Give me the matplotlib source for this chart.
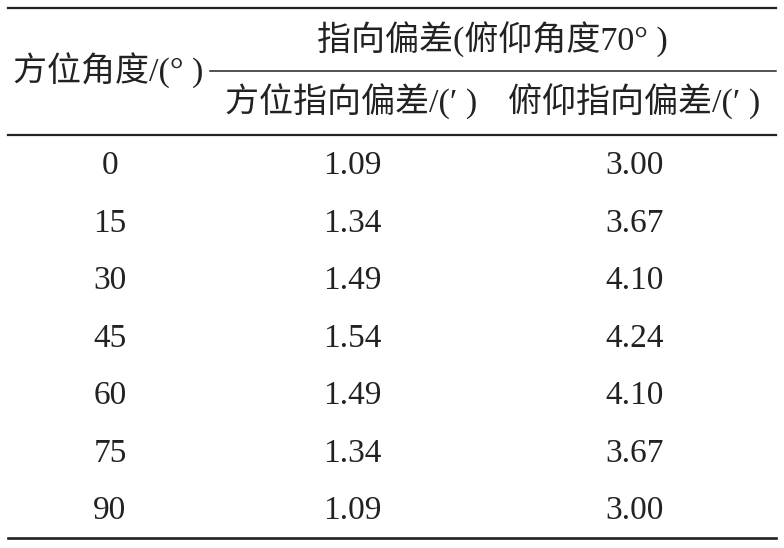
import matplotlib
matplotlib.use("Agg")
import matplotlib.pyplot as plt

# table data
azimuth = ["0", "15", "30", "45", "60", "75", "90"]
az_error = ["1.09", "1.34", "1.49", "1.54", "1.49", "1.34", "1.09"]
el_error = ["3.00", "3.67", "4.10", "4.24", "4.10", "3.67", "3.00"]

group_title = "指向偏差(俯仰角度70° )"
col_titles = ["方位角度/(° )", "方位指向偏差/(′ )", "俯仰指向偏差/(′ )"]

fam = ["Liberation Serif", "Noto Sans CJK SC"]
W, H = 784, 548

fig = plt.figure(figsize=(W / 100, H / 100), dpi=100)
ax = fig.add_axes([0, 0, 1, 1])
ax.set_xlim(0, W)
ax.set_ylim(H, 0)
ax.axis("off")

# rules
ax.plot([8, 776], [8, 8], color="#222222", lw=1.6)
ax.plot([210, 776], [71, 71], color="#222222", lw=1.1)
ax.plot([8, 776], [135, 135], color="#222222", lw=1.6)
ax.plot([8, 776], [538, 538], color="#222222", lw=1.9)

# header
hs = 24.5
ax.text(492, 40, group_title, family=fam, fontsize=hs, ha="center", va="center", color="#222222")
ax.text(108, 71, col_titles[0], family=fam, fontsize=hs, ha="center", va="center", color="#222222")
ax.text(351, 102, col_titles[1], family=fam, fontsize=hs, ha="center", va="center", color="#222222")
ax.text(634, 102, col_titles[2], family=fam, fontsize=hs, ha="center", va="center", color="#222222")

# body rows
col_x = [110, 352, 635]
row_y0, row_dy = 166, 57.5
for i in range(len(azimuth)):
    y = row_y0 + i * row_dy
    for x, val in zip(col_x, [azimuth[i], az_error[i], el_error[i]]):
        ax.text(x, y, val, family=fam, fontsize=24, ha="center", va="center", color="#222222")

fig.savefig("out.png", dpi=100)
